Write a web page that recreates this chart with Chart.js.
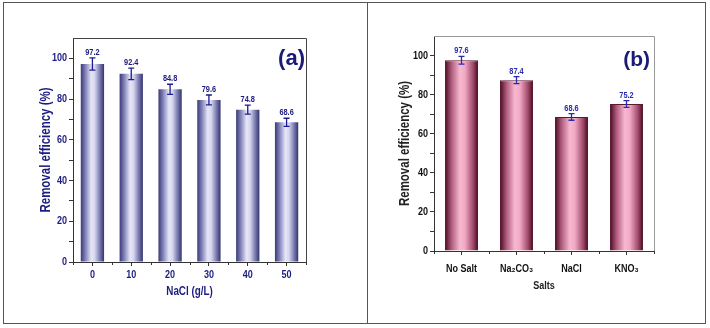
<!DOCTYPE html>
<html>
<head>
<meta charset="utf-8">
<script src="https://cdn.jsdelivr.net/npm/chart.js@4.4.0/dist/chart.umd.min.js"></script>
<style>
  body { margin: 0; background: #fff; }
  #frame { position: absolute; left: 3px; top: 2px; width: 703px; height: 322px; border: 1px solid #555; box-sizing: border-box; }
  #divider { position: absolute; left: 367px; top: 2px; width: 1px; height: 322px; background: #555; }
  #wrapA { position: absolute; left: 0; top: 0; width: 367px; height: 328px; }
  #wrapB { position: absolute; left: 367px; top: 0; width: 343px; height: 328px; }
</style>
</head>
<body>
<div id="frame"></div>
<div id="divider"></div>
<div id="wrapA"><canvas id="chartA"></canvas></div>
<div id="wrapB"><canvas id="chartB"></canvas></div>
<script>
// panel (a): NaCl concentration
const naclLabels = ['0', '10', '20', '30', '40', '50'];
const naclValues = [97.2, 92.4, 84.8, 79.6, 74.8, 68.6];
const naclErrors = [3.0, 2.8, 2.5, 2.4, 2.2, 2.0];

// panel (b): salt type
const saltLabels = ['No Salt', 'Na₂CO₃', 'NaCl', 'KNO₃'];
const saltValues = [97.6, 87.4, 68.6, 75.2];
const saltErrors = [2.0, 1.8, 1.7, 1.7];

const yTicks = [0, 20, 40, 60, 80, 100];

const FONT = '"Liberation Sans", Arial, sans-serif';
const BAR_FRAC = 0.6;
const SQUEEZE = 0.82; // the original uses a narrow typeface

// squeeze every text drawn on the chart horizontally
const narrowText = {
    id: 'narrowText',
    beforeInit(chart) {
        const ctx = chart.ctx;
        const orig = ctx.fillText.bind(ctx);
        ctx.fillText = function (t, x, y) {
            if (ctx.wideText) return orig(t, x, y);
            ctx.save();
            ctx.translate(x, y);
            ctx.scale(SQUEEZE, 1);
            orig(t, 0, 0);
            ctx.restore();
        };
    }
};

function cylinder(stops, fallback) {
    return function (c) {
        const chart = c.chart;
        if (!chart.chartArea) return fallback;
        const xs = chart.scales.x;
        const px = xs.getPixelForValue(c.dataIndex);
        const w = xs.width / chart.data.labels.length * BAR_FRAC;
        const g = chart.ctx.createLinearGradient(px - w / 2, 0, px + w / 2, 0);
        stops.forEach(s => g.addColorStop(s[0], s[1]));
        return g;
    };
}

// error bars, value labels and panel letter
const extrasPlugin = {
    id: 'extras',
    afterDatasetsDraw(chart, args, opts) {
        const ctx = chart.ctx;
        const xs = chart.scales.x, ys = chart.scales.y;
        const a = chart.chartArea;
        const vals = chart.data.datasets[0].data;
        ctx.save();
        vals.forEach((v, i) => {
            const px = xs.getPixelForValue(i);
            const top = ys.getPixelForValue(v + opts.errors[i]);
            const bot = ys.getPixelForValue(v - opts.errors[i]);
            ctx.strokeStyle = opts.errColor;
            ctx.lineWidth = 1.3;
            ctx.beginPath();
            ctx.moveTo(px, top); ctx.lineTo(px, bot);
            ctx.moveTo(px - 3, top); ctx.lineTo(px + 3, top);
            ctx.moveTo(px - 3, bot); ctx.lineTo(px + 3, bot);
            ctx.stroke();
            ctx.fillStyle = opts.labelColor;
            ctx.font = 'bold 9px ' + FONT;
            ctx.textAlign = 'center';
            ctx.textBaseline = 'bottom';
            ctx.fillText(v.toFixed(1), px, top - 1);
        });
        // minor ticks between categories
        ctx.strokeStyle = '#333';
        ctx.lineWidth = 1;
        const step = xs.width / vals.length;
        ctx.beginPath();
        for (let i = 0; i <= vals.length; i++) {
            const x = Math.round(xs.left + i * step) + 0.5;
            ctx.moveTo(x, a.bottom);
            ctx.lineTo(x, a.bottom + 3);
        }
        ctx.stroke();
        // top and right frame of the plot
        ctx.strokeStyle = opts.boxColor;
        ctx.beginPath();
        ctx.moveTo(a.left, a.top + 0.5); ctx.lineTo(a.right + 0.5, a.top + 0.5);
        ctx.lineTo(a.right + 0.5, a.bottom);
        ctx.stroke();
        ctx.fillStyle = opts.letterColor;
        ctx.font = 'bold ' + opts.letterSize + 'px ' + FONT;
        ctx.textAlign = 'right';
        ctx.textBaseline = 'middle';
        ctx.wideText = true;
        ctx.fillText(opts.letter, a.right - opts.letterInset, a.top + opts.letterDy);
        ctx.wideText = false;
        ctx.restore();
    }
};

function makeChart(id, cfg) {
    return new Chart(document.getElementById(id), {
        type: 'bar',
        data: {
            labels: cfg.labels,
            datasets: [{
                data: cfg.values,
                backgroundColor: cylinder(cfg.stops, cfg.stops[2][1]),
                borderColor: cfg.barBorder,
                borderWidth: cfg.barBorderWidth,
                borderSkipped: 'bottom',
                barPercentage: BAR_FRAC,
                categoryPercentage: 1
            }]
        },
        options: {
            responsive: false,
            animation: false,
            events: [],
            layout: { padding: cfg.padding },
            plugins: {
                legend: { display: false },
                tooltip: { enabled: false },
                extras: cfg.extras
            },
            scales: {
                x: {
                    offset: true,
                    afterFit: s => { s.height = cfg.xHeight; },
                    border: { color: '#333', width: 1 },
                    grid: { drawOnChartArea: false, offset: false, tickLength: 4, color: '#333' },
                    ticks: { color: cfg.tickColor, padding: cfg.xTickPad, font: { family: FONT, size: 11, weight: 'bold' } },
                    title: {
                        display: true, text: cfg.xTitle, color: cfg.titleColor,
                        padding: { top: 0, bottom: cfg.xTitlePad },
                        font: { family: FONT, size: cfg.xTitleSize, weight: 'bold' }
                    }
                },
                y: {
                    min: 0, max: 110,
                    afterFit: s => { s.width = cfg.yWidth; },
                    afterBuildTicks: s => { s.ticks = [0, 10, 20, 30, 40, 50, 60, 70, 80, 90, 100].map(v => ({ value: v })); },
                    border: { color: '#333', width: 1 },
                    grid: { drawOnChartArea: false, tickLength: 4, color: '#333' },
                    ticks: {
                        color: cfg.tickColor, padding: 2,
                        font: { family: FONT, size: 11, weight: 'bold' },
                        callback: v => yTicks.includes(v) ? String(v) : ''
                    },
                    title: {
                        display: true, text: 'Removal efficiency (%)', color: cfg.titleColor,
                        padding: { top: cfg.yTitlePad, bottom: 0 },
                        font: { family: FONT, size: 14, weight: 'bold' }
                    }
                }
            }
        },
        plugins: [narrowText, extrasPlugin]
    });
}

const canvasA = document.getElementById('chartA');
canvasA.width = 367; canvasA.height = 328;
const canvasB = document.getElementById('chartB');
canvasB.width = 343; canvasB.height = 328;

makeChart('chartA', {
    labels: naclLabels,
    values: naclValues,
    stops: [[0, '#3a3a78'], [0.18, '#7a7ab4'], [0.45, '#e6e6f7'], [0.6, '#d6d6ef'], [0.85, '#6e6ea8'], [1, '#34346c']],
    barBorder: '#3a3a70',
    barBorderWidth: 0,
    padding: { left: 38, top: 38, right: 61, bottom: 26 },
    xHeight: 40,
    yWidth: 35,
    xTickPad: 2,
    xTitlePad: 3,
    yTitlePad: 0,
    xTitle: 'NaCl (g/L)',
    xTitleSize: 12,
    tickColor: '#1c1c80',
    titleColor: '#1c1c80',
    extras: { errors: naclErrors, errColor: '#1c1c90', labelColor: '#1c1c80', boxColor: '#444', letter: '(a)', letterSize: 22, letterColor: '#1a1a78', letterInset: 1, letterDy: 21 }
});

makeChart('chartB', {
    labels: saltLabels,
    values: saltValues,
    stops: [[0, '#4a0a22'], [0.2, '#b05c7e'], [0.45, '#f7b9d0'], [0.6, '#f2aac4'], [0.85, '#a04a6c'], [1, '#48081e']],
    barBorder: '#5a1a30',
    barBorderWidth: 1,
    padding: { left: 30, top: 36, right: 56, bottom: 33 },
    xHeight: 44,
    yWidth: 37,
    xTickPad: 7,
    xTitlePad: 2,
    yTitlePad: 0,
    xTitle: 'Salts',
    xTitleSize: 11,
    tickColor: '#111',
    titleColor: '#222',
    extras: { errors: saltErrors, errColor: '#2a2ab0', labelColor: '#2a2ab0', boxColor: '#999', letter: '(b)', letterSize: 21, letterColor: '#1a1a78', letterInset: 4, letterDy: 24 }
});
</script>
</body>
</html>
